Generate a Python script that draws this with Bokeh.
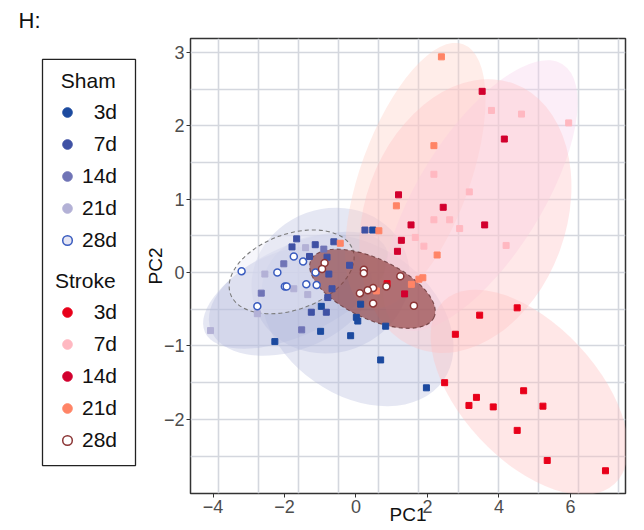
import numpy as np
from bokeh.plotting import figure
from bokeh.models import FixedTicker, Legend, LegendItem, Range1d, BoxAnnotation
from bokeh.layouts import row
from bokeh.embed import file_html
from bokeh.resources import INLINE

FONT = "Liberation Sans"
groups = ["3d", "7d", "14d", "21d", "28d"]

# ---------------- data (PC1, PC2) ----------------
sham_3d_x = [1.97, 0.69, 0.83, -0.15, 0.01, 0.05, 0.13, -2.27, -0.99, -0.97, 0.47]
sham_3d_y = [-1.57, -1.19, -0.73, -0.86, -0.61, -0.66, -0.43, -0.94, -0.80, -0.46, 0.58]
sham_7d_x = [0.25, -0.18, -0.62, -1.66, -1.79, -1.14, -1.30, -0.81, -0.76, -0.67, -0.79, -1.25, -0.83]
sham_7d_y = [0.58, 0.10, 0.42, 0.46, 0.35, 0.38, 0.22, 0.21, -0.02, -0.22, -0.34, -0.54, -0.54]
sham_14d_x = [-2.65, -2.02, -1.52, -0.90]
sham_14d_y = [-0.28, 0.12, -0.78, 0.32]
sham_21d_x = [-4.07, -2.76, -2.55, -1.74, -1.41, -1.35]
sham_21d_y = [-0.79, -0.56, -0.02, -0.22, 0.34, -0.30]
sham_28d_x = [-1.74, -1.48, -2.20, -3.20, -1.13, -1.99, -1.94, -1.39, -1.10, -2.76]
sham_28d_y = [0.22, 0.15, 0.00, 0.02, 0.00, -0.19, -0.19, -0.16, -0.17, -0.46]

stroke_3d_x = [2.78, 3.46, 4.51, 2.48, 4.69, 3.37, 3.16, 3.84, 5.23, 4.51, 5.35, 6.98, 0.87]
stroke_3d_y = [-0.84, -0.58, -0.48, -1.50, -1.61, -1.70, -1.81, -1.83, -1.82, -2.15, -2.56, -2.70, -0.15]
stroke_7d_x = [3.79, 4.63, 5.95, 2.18, 3.17, 2.18, 2.62, 2.90, 1.66, 1.90, 4.20]
stroke_7d_y = [2.21, 2.16, 2.04, 1.34, 1.10, 0.72, 0.72, 0.60, 0.48, 0.36, 0.37]
stroke_14d_x = [3.53, 4.15, 1.19, 2.44, 1.54, 3.60, 1.27, 1.16, 1.36]
stroke_14d_y = [2.47, 1.82, 1.06, 0.89, 0.65, 0.65, 0.44, 0.29, -0.29]
stroke_21d_x = [2.39, 2.18, 1.13, 0.64, -0.44, 2.27, 1.55, 1.76, 1.87, 0.57]
stroke_21d_y = [2.94, 1.73, 0.91, 0.57, 0.40, 0.24, -0.16, -0.09, -0.07, -0.25]
stroke_28d_x = [0.22, 0.22, 1.24, 0.85, 0.48, 0.33, 0.11, 0.48, 1.62, -0.88, -0.95]
stroke_28d_y = [0.04, -0.01, -0.05, -0.19, -0.21, -0.24, -0.28, -0.42, -0.45, 0.13, 0.05]

# ellipse summaries per group (3d, 7d, 14d, 21d, 28d):
# centre x, centre y, width (PC1 units), height (PC2 units), angle (deg)
sham_ell_cx = [0.04, -0.71, -1.83, -1.69, -1.80]
sham_ell_cy = [-0.65, -0.11, -0.38, -0.24, 0.01]
sham_ell_w = [5.87, 4.48, 4.76, 5.59, 3.64]
sham_ell_h = [2.04, 1.96, 1.36, 1.22, 1.03]
sham_ell_a = [-35, 20, 20, 25, 20]

stroke_ell_cx = [4.85, 3.48, 3.06, 1.66, 0.46]
stroke_ell_cy = [-1.63, 1.05, 0.77, 1.32, -0.22]
stroke_ell_w = [7.00, 8.67, 7.89, 7.83, 3.80]
stroke_ell_h = [1.85, 1.68, 2.74, 1.49, 0.82]
stroke_ell_a = [-47, 58, 70, 70, -25]

x_ticks = [-4, -2, 0, 2, 4, 6]
y_ticks = [-2, -1, 0, 1, 2, 3]

sham_x = [sham_3d_x, sham_7d_x, sham_14d_x, sham_21d_x, sham_28d_x]
sham_y = [sham_3d_y, sham_7d_y, sham_14d_y, sham_21d_y, sham_28d_y]
stroke_x = [stroke_3d_x, stroke_7d_x, stroke_14d_x, stroke_21d_x, stroke_28d_x]
stroke_y = [stroke_3d_y, stroke_7d_y, stroke_14d_y, stroke_21d_y, stroke_28d_y]

sham_cols = ["#1c4a9f", "#3f51a4", "#7074b6", "#b3b1d6", "#3a5cbf"]
stroke_cols = ["#e8001a", "#ffb8c1", "#d2002e", "#ff8466", "#8b3535"]

H = 530
# ---------------- main plot ----------------
p = figure(width=505, height=H, x_range=Range1d(-4.63, 7.54), y_range=Range1d(-3.01, 3.19),
           output_backend="svg", toolbar_location=None,
           min_border_left=51, min_border_right=19, min_border_top=37, min_border_bottom=37)
p.background_fill_color = "white"
p.border_fill_color = "white"
p.outline_line_color = "#333333"
p.outline_line_width = 1.5

p.xaxis.ticker = FixedTicker(ticks=x_ticks)
p.yaxis.ticker = FixedTicker(ticks=y_ticks)
p.xaxis.major_label_overrides = {t: str(t).replace("-", "\u2212") for t in x_ticks}
p.yaxis.major_label_overrides = {t: str(t).replace("-", "\u2212") for t in y_ticks}
p.xgrid.ticker = FixedTicker(ticks=list(np.arange(-3.838, 7.5, 1.119)))
p.ygrid.ticker = FixedTicker(ticks=list(np.arange(-2.5, 3.01, 0.5)))
for g in (p.xgrid, p.ygrid):
    g.grid_line_color = "#d4d7de"
    g.grid_line_width = 1.6

for ax in (p.xaxis, p.yaxis):
    ax.axis_line_color = None
    ax.major_tick_line_color = "#333333"
    ax.major_tick_out = 4
    ax.major_tick_in = 0
    ax.minor_tick_line_color = None
    ax.major_label_text_font = FONT
    ax.major_label_text_font_size = "18px"
    ax.major_label_text_color = "#4d4d4d"
    ax.axis_label_text_font = FONT
    ax.axis_label_text_font_size = "19px"
    ax.axis_label_text_font_style = "normal"
    ax.axis_label_text_color = "#111111"
    ax.major_label_standoff = 2
p.xaxis.axis_label = "PC1"
p.yaxis.axis_label = "PC2"
p.xaxis.axis_label_standoff = -12
p.yaxis.axis_label_standoff = -5

# sham ellipses
for i in [3, 2, 1, 0]:
    p.ellipse(x=sham_ell_cx[i], y=sham_ell_cy[i], width=sham_ell_w[i], height=sham_ell_h[i],
              angle=sham_ell_a[i], angle_units="deg", fill_color="#b8bddd", fill_alpha=0.36,
              line_color=None)
# stroke ellipses
stroke_fill = ["#ffc0c0", "#f6d2ec", "#ffc2c6", "#ffd0c6"]
for i in [3, 1, 2, 0]:
    p.ellipse(x=stroke_ell_cx[i], y=stroke_ell_cy[i], width=stroke_ell_w[i], height=stroke_ell_h[i],
              angle=stroke_ell_a[i], angle_units="deg", fill_color=stroke_fill[i], fill_alpha=0.38,
              line_color=None)
# 28d ellipses (dashed)
p.ellipse(x=sham_ell_cx[4], y=sham_ell_cy[4], width=sham_ell_w[4], height=sham_ell_h[4],
          angle=sham_ell_a[4], angle_units="deg", fill_color="#ececf6", fill_alpha=0.45,
          line_color="#7a7a7a", line_dash="4 3", line_width=1.1)
p.ellipse(x=stroke_ell_cx[4], y=stroke_ell_cy[4], width=stroke_ell_w[4], height=stroke_ell_h[4],
          angle=stroke_ell_a[4], angle_units="deg", fill_color="#8b3a3a", fill_alpha=0.64,
          line_color="#5a2828", line_alpha=0.7, line_dash="4 3", line_width=1.1)

# points
for xs, ys, cols in ((sham_x, sham_y, sham_cols), (stroke_x, stroke_y, stroke_cols)):
    for i in range(4):
        p.scatter(xs[i], ys[i], marker="square", size=6, fill_color=cols[i], line_color=cols[i])
    p.scatter(xs[4], ys[4], marker="circle", size=7, fill_color="white", line_color=cols[4],
              line_width=1.5)

# ---------------- legend panel ----------------
# 1 unit = 1 px here; the series are plotted off-view so the legend glyphs have data
lf = figure(width=139, height=H, x_range=Range1d(96, 197), y_range=Range1d(0, 456),
            x_axis_type=None, y_axis_type=None, output_backend="svg", toolbar_location=None,
            min_border_left=38, min_border_right=0, min_border_top=37, min_border_bottom=37)
lf.outline_line_color = None
lf.border_fill_color = "white"
lf.title.text = "H:"
lf.title.text_font = FONT
lf.title.text_font_size = "22px"
lf.title.text_font_style = "normal"
lf.title.text_color = "#111111"
lf.title.align = "left"
lf.title.offset = -20
lf.title.standoff = 11
lf.add_layout(BoxAnnotation(left=100, right=193, bottom=28, top=435, fill_alpha=0,
                            line_color="#222222", line_width=1.3, line_alpha=1))

def make_legend(name, xs, ys, cols, loc):
    items = []
    for i, g in enumerate(groups):
        lab = ("\u00a0\u00a0" + g) if len(g) == 2 else g
        if i < 4:
            r = lf.scatter(xs[i], ys[i], marker="circle", size=9, fill_color=cols[i],
                           line_color=cols[i])
        else:
            fc = "#e6e6f4" if name == "Sham" else "white"
            r = lf.scatter(xs[i], ys[i], marker="circle", size=9, fill_color=fc,
                           line_color=cols[i], line_width=1.5)
        items.append(LegendItem(label=lab, renderers=[r]))
    title = ("\u00a0" + name) if name == "Sham" else name
    leg = Legend(items=items, title=title, location=loc)
    leg.title_text_font = FONT
    leg.title_text_font_size = "21px"
    leg.title_text_font_style = "normal"
    leg.title_text_color = "#111111"
    leg.title_standoff = 7
    leg.label_text_font = FONT
    leg.label_text_font_size = "21px"
    leg.label_text_color = "#111111"
    leg.label_height = 24
    leg.glyph_height = 24
    leg.glyph_width = 24
    leg.label_standoff = 3
    leg.spacing = 8
    leg.padding = 5
    leg.margin = 0
    leg.border_line_alpha = 0
    leg.background_fill_alpha = 0
    lf.add_layout(leg)

make_legend("Sham", sham_x, sham_y, sham_cols, (12, 236))
make_legend("Stroke", stroke_x, stroke_y, stroke_cols, (12, 36))

layout = row(lf, p)
open("out.html", "w").write(file_html(layout, INLINE))
